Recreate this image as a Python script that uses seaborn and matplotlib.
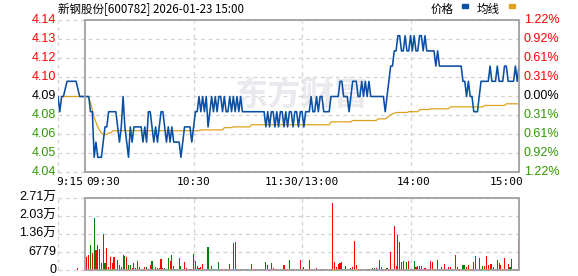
import matplotlib
matplotlib.use("Agg")
import matplotlib.pyplot as plt
from matplotlib.patches import Rectangle
from matplotlib.transforms import blended_transform_factory
import seaborn as sns

# ---------------- data ----------------
title = "新钢股份[600782] 2026-01-23 15:00"
prev_close = 4.09

price_ticks = [4.04, 4.0525, 4.065, 4.0775, 4.09, 4.1025, 4.115, 4.1275, 4.14]
price_labels = ["4.04", "4.05", "4.06", "4.08", "4.09", "4.10", "4.12", "4.13", "4.14"]
pct_labels = ["1.22%", "0.92%", "0.61%", "0.31%", "0.00%", "0.31%", "0.61%", "0.92%", "1.22%"]

time_labels = ["9:15", "09:30", "10:30", "11:30/13:00", "14:00", "15:00"]
time_pos = [-15, 0, 60, 120, 180, 240]

vol_ticks = [0, 6779, 13558, 20337, 27116]
vol_labels = ["0", "6779", "1.36万", "2.03万", "2.71万"]

# call auction 9:15-9:29 (minutes relative to 9:30)
pre_minutes = list(range(-15, 0))
pre_price = [4.09, 4.08, 4.09, 4.09, 4.095, 4.10, 4.10, 4.10, 4.10, 4.10,
             4.10, 4.095, 4.09, 4.09, 4.09]
pre_avg = [None, None, None, 4.09, 4.09, 4.09, 4.09, 4.09, 4.09, 4.09,
           4.09, 4.09, 4.09, 4.09, 4.09]
pre_vol_minute = [-4]
pre_vol = [860]

# trading minutes 0..240
minutes = list(range(0, 241))
price = [
    4.09, 4.09, 4.09, 4.08, 4.08, 4.05, 4.06, 4.05, 4.05, 4.05,
    4.06, 4.07, 4.07, 4.08, 4.08, 4.08, 4.08, 4.08, 4.07, 4.06,
    4.07, 4.09, 4.07, 4.06, 4.05, 4.07, 4.06, 4.07, 4.07, 4.07,
    4.07, 4.07, 4.06, 4.07, 4.06, 4.08, 4.08, 4.07, 4.06, 4.07,
    4.06, 4.07, 4.08, 4.08, 4.07, 4.06, 4.07, 4.06, 4.07, 4.06,
    4.06, 4.06, 4.06, 4.05, 4.06, 4.07, 4.07, 4.07, 4.07, 4.06,
    4.07, 4.08, 4.08, 4.09, 4.08, 4.09, 4.08, 4.09, 4.07, 4.08,
    4.09, 4.08, 4.09, 4.08, 4.09, 4.09, 4.08, 4.09, 4.08, 4.08,
    4.09, 4.08, 4.09, 4.08, 4.09, 4.08, 4.09, 4.08, 4.08, 4.08,
    4.08, 4.08, 4.08, 4.08, 4.08, 4.08, 4.08, 4.08, 4.08, 4.08,
    4.07, 4.08, 4.07, 4.08, 4.08, 4.07, 4.08, 4.07, 4.08, 4.08,
    4.07, 4.08, 4.07, 4.08, 4.08, 4.07, 4.08, 4.08, 4.07, 4.08,
    4.08, 4.07, 4.08, 4.08, 4.08, 4.09, 4.08, 4.08, 4.09, 4.08,
    4.09, 4.09, 4.08, 4.08, 4.08, 4.08, 4.09, 4.09, 4.09, 4.09,
    4.09, 4.10, 4.10, 4.09, 4.09, 4.09, 4.08, 4.09, 4.10, 4.10,
    4.10, 4.09, 4.09, 4.10, 4.09, 4.10, 4.09, 4.10, 4.09, 4.09,
    4.09, 4.09, 4.09, 4.09, 4.09, 4.09, 4.08, 4.09, 4.10, 4.11,
    4.11, 4.12, 4.12, 4.13, 4.13, 4.12, 4.12, 4.13, 4.12, 4.12,
    4.13, 4.12, 4.13, 4.12, 4.12, 4.13, 4.13, 4.12, 4.13, 4.12,
    4.12, 4.12, 4.12, 4.12, 4.11, 4.12, 4.11, 4.11, 4.11, 4.11,
    4.11, 4.11, 4.11, 4.11, 4.11, 4.11, 4.11, 4.11, 4.11, 4.10,
    4.10, 4.09, 4.10, 4.09, 4.09, 4.08, 4.08, 4.08, 4.09, 4.10,
    4.10, 4.10, 4.10, 4.10, 4.11, 4.10, 4.10, 4.10, 4.11, 4.10,
    4.10, 4.10, 4.11, 4.11, 4.10, 4.10, 4.10, 4.10, 4.11, 4.10,
    4.11,
]
avg_price = [
    4.090, 4.090, 4.089, 4.086, 4.081, 4.076, 4.073, 4.070, 4.068, 4.066,
    4.065, 4.065, 4.065, 4.066, 4.066, 4.067, 4.0675, 4.0675, 4.0675, 4.0675,
    4.0675, 4.0675, 4.0675, 4.0675, 4.0675, 4.0675, 4.0675, 4.0675, 4.0675, 4.0675,
    4.0675, 4.0675, 4.0675, 4.0675, 4.0675, 4.0675, 4.0675, 4.0675, 4.0675, 4.0675,
    4.0675, 4.0675, 4.0675, 4.0675, 4.0675, 4.0675, 4.0675, 4.0675, 4.0675, 4.0675,
    4.0675, 4.0675, 4.0675, 4.0675, 4.0675, 4.0675, 4.0675, 4.0675, 4.0675, 4.0675,
    4.0675, 4.0675, 4.0675, 4.0675, 4.068, 4.068, 4.068, 4.068, 4.068, 4.068,
    4.068, 4.068, 4.068, 4.068, 4.068, 4.068, 4.068, 4.0695, 4.0695, 4.0695,
    4.0695, 4.0695, 4.070, 4.070, 4.070, 4.070, 4.070, 4.070, 4.070, 4.070,
    4.070, 4.070, 4.0714, 4.0714, 4.0714, 4.0714, 4.0714, 4.0714, 4.0714, 4.0714,
    4.0714, 4.0714, 4.0714, 4.0714, 4.0714, 4.0714, 4.0714, 4.0714, 4.0714, 4.0714,
    4.0714, 4.0714, 4.0714, 4.0714, 4.0714, 4.0714, 4.0714, 4.0714, 4.0714, 4.0714,
    4.0714, 4.0714, 4.0714, 4.0714, 4.0714, 4.0714, 4.0714, 4.0714, 4.0714, 4.0714,
    4.0714, 4.0714, 4.0714, 4.0714, 4.0714, 4.0714, 4.0733, 4.0733, 4.0733, 4.0733,
    4.0733, 4.0733, 4.0733, 4.0733, 4.0733, 4.0733, 4.0733, 4.0733, 4.0742, 4.0742,
    4.0742, 4.0742, 4.0742, 4.0742, 4.0742, 4.0742, 4.0742, 4.0742, 4.0742, 4.0742,
    4.0742, 4.0742, 4.0753, 4.0753, 4.0753, 4.0753, 4.0753, 4.076, 4.077, 4.078,
    4.0785, 4.079, 4.0793, 4.0795, 4.0795, 4.0795, 4.0795, 4.0795, 4.0795, 4.080,
    4.080, 4.080, 4.080, 4.080, 4.080, 4.0814, 4.0814, 4.0814, 4.0814, 4.0814,
    4.0814, 4.0819, 4.0819, 4.0819, 4.0819, 4.0819, 4.0819, 4.0819, 4.0819, 4.0819,
    4.0819, 4.0819, 4.0832, 4.0832, 4.0832, 4.0832, 4.0832, 4.0832, 4.0832, 4.0832,
    4.0832, 4.0832, 4.0832, 4.0832, 4.0832, 4.0832, 4.0832, 4.0832, 4.0832, 4.0832,
    4.0832, 4.0841, 4.0841, 4.0841, 4.0841, 4.0841, 4.0841, 4.0841, 4.0841, 4.0841,
    4.0841, 4.0841, 4.0841, 4.0852, 4.0852, 4.0852, 4.0852, 4.0852, 4.0852, 4.0852,
    4.0852,
]

# per-minute volume, bars for minutes 1..240
vol_minutes = list(range(1, 241))
volume = [
    4800, 5550, 9600, 6530, 19600, 7400, 9600, 7770, 2700, 13700,
    2500, 8140, 1100, 4800, 2600, 4800, 400, 3700, 1850, 1100,
    5550, 5180, 4800, 1850, 1850, 740, 2600, 740, 3330, 1100,
    370, 370, 1100, 1100, 400, 1850, 3330, 370, 1100, 740,
    740, 4070, 740, 860, 400, 4440, 3330, 5550, 1480, 370,
    370, 4440, 1480, 370, 2960, 860, 370, 370, 370, 5920,
    3330, 1480, 740, 1230, 2220, 370, 370, 8510, 370, 1480,
    370, 370, 370, 2960, 370, 370, 370, 370, 370, 2220,
    370, 9990, 10360, 370, 370, 370, 370, 370, 370, 370,
    370, 2220, 370, 370, 370, 370, 370, 370, 370, 2960,
    1850, 370, 2590, 740, 370, 370, 370, 370, 370, 1850,
    370, 370, 3700, 370, 370, 370, 370, 370, 3700, 370,
    1100, 370, 370, 3700, 370, 370, 370, 740, 370, 370,
    370, 370, 370, 370, 370, 370, 25277, 2960, 1100, 2220,
    2590, 2960, 370, 1480, 370, 370, 600, 1100, 11100, 1850,
    370, 370, 370, 370, 370, 370, 370, 370, 740, 740,
    740, 370, 3700, 1100, 370, 370, 740, 370, 6660, 370,
    16650, 1480, 13300, 10700, 2960, 3330, 370, 2960, 3330, 370,
    370, 3330, 1100, 1480, 1480, 1480, 370, 740, 370, 370,
    3330, 2960, 370, 370, 3700, 370, 1100, 370, 2220, 370,
    1100, 1100, 370, 370, 5550, 1100, 370, 370, 1850, 1850,
    1100, 1850, 370, 370, 2960, 5180, 370, 4440, 370, 1480,
    1480, 5180, 1850, 2220, 2220, 1100, 370, 3700, 2590, 1850,
    370, 4440, 370, 2220, 1100, 4070, 370, 370, 370, 11840,
]
vol_dir = (
    "rrgrgrgrgr" "grrrrrggrr" "rgrggrrrrr" "rrrgrrgrgr"
    "rrrgrgrgrg" "rrgrrrrgrg" "rrrrrrrgrr" "rrggrrrrrr"
    "grrrrgrgrr" "rrrrrgrrrg" "grgrrrrrrr" "rrgrrrrrrr"
    "grrrrrrrrr" "rrrrgrrrrr" "rrrgrggrrr" "rrrrrrrrgg"
    "rrrrrrgrrr" "rrrrgrrgrr" "rgrgggrrrr" "rrrgrrrrrr"
    "rrrrrrrrgg" "rrrgrgrrrg" "rrrrrgrrrr" "rrrrgrrrrr"
)

# ---------------- style ----------------
sns.set_style("white")
plt.rcParams["font.family"] = ["Liberation Sans", "Noto Sans CJK SC"]

BLUE = "#0a4fa3"
ORANGE = "#dfa11f"
RED = "#ff0000"
GREEN = "#2f9a00"
BAR_GREEN = "#008000"
FRAME = "#a0a0a0"
GRID = "#d2d2d2"
DASH = (0, (3, 3))

W, H = 578, 276
fig = plt.figure(figsize=(W / 100, H / 100), dpi=100)


def box(x0, y0, x1, y1):
    return [x0 / W, 1 - y1 / H, (x1 - x0) / W, (y1 - y0) / H]


ax = fig.add_axes(box(58, 20.5, 519, 172.5))
axv = fig.add_axes(box(58, 198, 519, 270))

for a in (ax, axv):
    a.set_xlim(-15, 240)
    for s in a.spines.values():
        s.set_visible(False)
    a.set_xticks([])
    a.set_yticks([])
    a.set_facecolor("none")

ymin, ymax = price_ticks[0], price_ticks[-1]
ax.set_ylim(ymin, ymax)
axv.set_ylim(vol_ticks[0], vol_ticks[-1])

# grid lines
for t in price_ticks:
    ax.axhline(t, color=GRID, lw=0.9, ls=DASH, zorder=1, clip_on=False)
for t in vol_ticks:
    axv.axhline(t, color=GRID, lw=0.9, ls=DASH, zorder=1, clip_on=False)
for m in [-15, 60, 120, 180]:
    ax.axvline(m, color=GRID, lw=0.9, ls=DASH, zorder=1, clip_on=False)
    axv.axvline(m, color=GRID, lw=0.9, ls=DASH, zorder=1, clip_on=False)

# watermark
ax.text(0.527, 0.5, "东方财富", transform=ax.transAxes, ha="center", va="center",
        fontsize=24, fontweight="bold", color="#e9e9ee", zorder=1.5,
        family=["Noto Sans CJK SC"])

# frames
ax.add_patch(Rectangle((0, ymin), 240, ymax - ymin, fill=False, ec=FRAME,
                       lw=1.3, zorder=6, clip_on=False))
axv.add_patch(Rectangle((0, vol_ticks[0]), 240, vol_ticks[-1] - vol_ticks[0],
                        fill=False, ec=FRAME, lw=1.3, zorder=6, clip_on=False))

# price lines
all_min = pre_minutes + minutes
all_price = pre_price + price
sns.lineplot(x=all_min, y=all_price, ax=ax, color=BLUE, lw=1.15,
             estimator=None, sort=False, zorder=5)
avg_min = [m for m, v in zip(pre_minutes, pre_avg) if v is not None] + minutes
avg_vals = [v for v in pre_avg if v is not None] + avg_price
sns.lineplot(x=avg_min, y=avg_vals, ax=ax, color=ORANGE, lw=0.9,
             estimator=None, sort=False, zorder=4)
ax.set_xlabel("")
ax.set_ylabel("")

# volume bars
bar_colors = [RED if c == "r" else BAR_GREEN for c in vol_dir]
axv.bar(vol_minutes, volume, width=0.62, color=bar_colors, zorder=3, linewidth=0)
axv.bar(pre_vol_minute, pre_vol, width=0.62, color=RED, zorder=3, linewidth=0)

# y labels (price / percent)
tl = blended_transform_factory(ax.transAxes, ax.transData)
for t, lab, pct in zip(price_ticks, price_labels, pct_labels):
    if abs(t - prev_close) < 1e-9:
        c = "#000000"
    elif t > prev_close:
        c = RED
    else:
        c = GREEN
    ax.text(-0.004, t, lab, transform=tl, ha="right", va="center",
            fontsize=9, color=c)
    ax.text(1.010, t, pct, transform=tl, ha="left", va="center",
            fontsize=9, color=c)

tv = blended_transform_factory(axv.transAxes, axv.transData)
for t, lab in zip(vol_ticks, vol_labels):
    axv.text(-0.004, t, lab, transform=tv, ha="right", va="center",
             fontsize=9, color="#000000")

# time labels
aligns = ["left", "left", "center", "center", "center", "right"]
offs = [-1, 1, 0, 0, 2, 3]
for m, lab, ha, dx in zip(time_pos, time_labels, aligns, offs):
    ax.annotate(lab, xy=(m, ymin), xytext=(dx, -3.5), textcoords="offset points",
                ha=ha, va="top", fontsize=8, color="#000000",
                family=["DejaVu Sans Mono"], annotation_clip=False)

# title & legend
fig.text(58 / W, 1 - 9.5 / H, title, ha="left", va="center", fontsize=8.3,
         color="#000000", family=["Noto Sans CJK SC"])
fig.text(431 / W, 1 - 9.5 / H, "价格", ha="left", va="center", fontsize=8.3,
         color="#000000", family=["Noto Sans CJK SC"])
fig.text(477 / W, 1 - 9.5 / H, "均线", ha="left", va="center", fontsize=8.3,
         color="#000000", family=["Noto Sans CJK SC"])
fig.patches.append(Rectangle((462 / W, 1 - 7.5 / H), 6 / W, 3 / H,
                             transform=fig.transFigure, color=BLUE))
fig.patches.append(Rectangle((509 / W, 1 - 7.5 / H), 6 / W, 3 / H,
                             transform=fig.transFigure, color=ORANGE))

fig.savefig("out.png", dpi=100, facecolor="white")
